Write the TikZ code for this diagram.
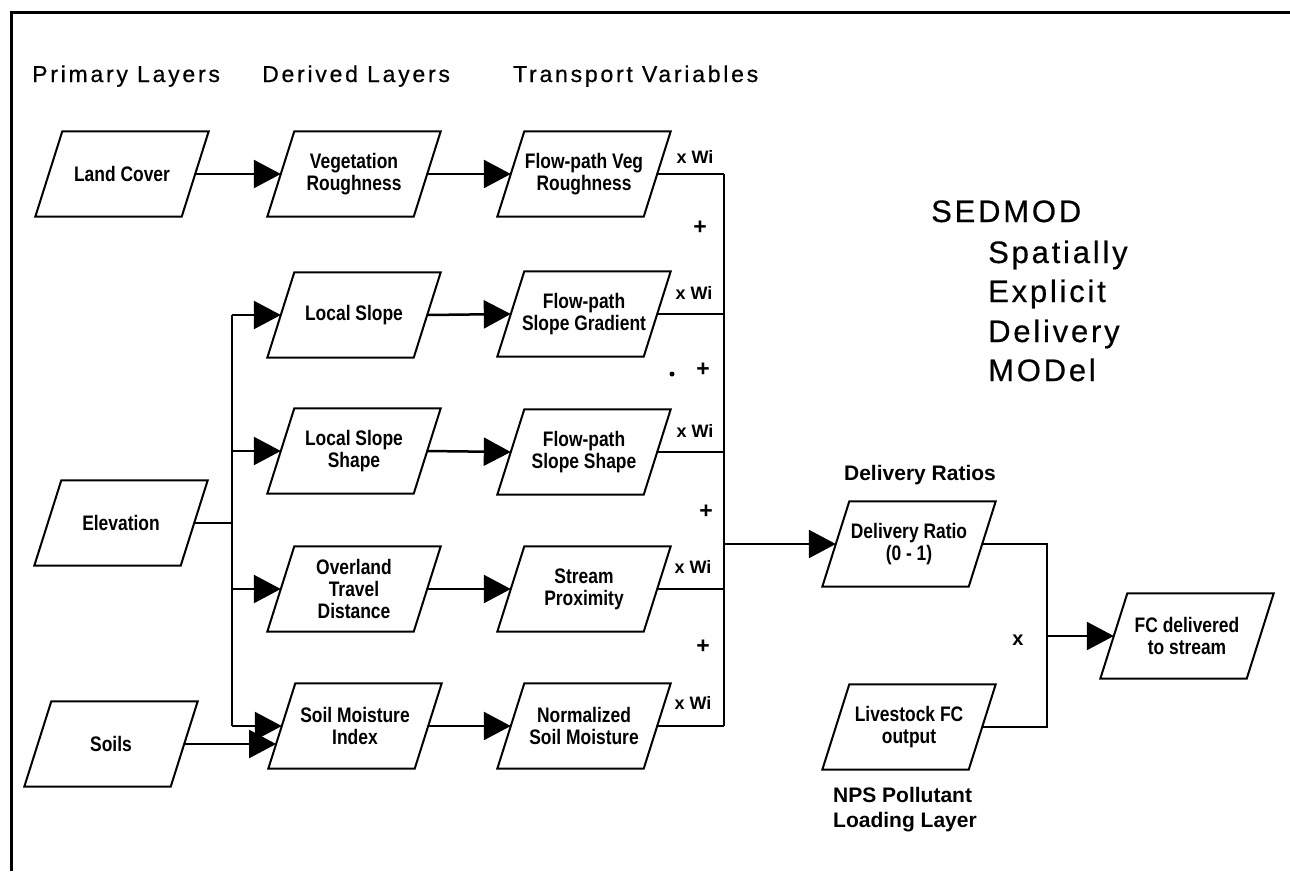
\documentclass[tikz,border=0pt]{standalone}
\usepackage{fontspec}
\setmainfont{Liberation Sans}
\newfontfamily\boxfont{Liberation Sans}[UprightFont=* Bold, FakeStretch=0.83]
\newfontfamily\labfont{Liberation Sans}[UprightFont=* Bold]
\newfontfamily\headfont{Liberation Sans}[LetterSpace=12, FakeBold=0.6]
\newfontfamily\titlefont{Liberation Sans}[LetterSpace=9, FakeBold=0.5]
\usetikzlibrary{arrows.meta}

\tikzset{
  layer/.style={minimum width=146pt, minimum height=85pt, inner sep=0pt,
    align=center, font=\boxfont\fontsize{21}{22}\selectfont},
  outline/.style={line width=2pt, line join=miter},
  conn/.style={line width=2.5pt},
  arr/.style={conn, -{Triangle[length=27pt,width=28pt]}},
  head/.style={anchor=base west, inner sep=0pt, font=\headfont\fontsize{23}{25}\selectfont},
  title/.style={anchor=base west, inner sep=0pt, font=\titlefont\fontsize{31}{34}\selectfont},
  oplab/.style={inner sep=0pt, font=\labfont\fontsize{18}{20}\selectfont},
  plus/.style={inner sep=0pt, font=\labfont\fontsize{23}{24}\selectfont},
  note/.style={inner sep=0pt, align=left, font=\labfont\fontsize{21}{25}\selectfont},
}

\begin{document}
\begin{tikzpicture}[x=1pt, y=-1pt]
\useasboundingbox (0,0) rectangle (1290,871);

% frame
\draw[line width=3pt] (1290,12) -- (11,12) -- (11,871);

% column headings
\node[head] (h1) at (32,82) {Primary Layers};
\node[head] (h2) at (262,82) {Derived Layers};
\node[head] (h3) at (513,82) {Transport Variables};

% primary layers
\node[layer] (lc)  at (122,174) {Land Cover};
\node[layer] (el)  at (121,523) {Elevation};
\node[layer] (so)  at (111,744) {Soils};

% derived layers
\node[layer] (vr)  at (354,174) {Vegetation\\Roughness};
\node[layer] (ls)  at (354,315) {Local Slope};
\node[layer] (lss) at (354,451) {Local Slope\\Shape};
\node[layer] (otd) at (354,589) {Overland\\Travel\\Distance};
\node[layer] (smi) at (355,726) {Soil Moisture\\Index};

% transport variables
\node[layer] (fvr) at (584,174) {Flow-path Veg\\Roughness};
\node[layer] (fsg) at (584,314) {Flow-path\\Slope Gradient};
\node[layer] (fss) at (584,452) {Flow-path\\Slope Shape};
\node[layer] (sp)  at (584,589) {Stream\\Proximity};
\node[layer] (nsm) at (584,726) {Normalized\\Soil Moisture};

% delivery and loading
\node[layer] (dr)  at (909,544) {Delivery Ratio\\(0 - 1)};
\node[layer] (lfc) at (909,727) {Livestock FC\\output};
\node[layer] (fc)  at (1187,636) {FC delivered\\to stream};

% parallelogram outlines
\foreach \n in {lc,el,so,vr,ls,lss,otd,smi,fvr,fsg,fss,sp,nsm,dr,lfc,fc}
  \draw[outline] ([xshift=-13.5pt]\n.south west) -- ([xshift=13.5pt]\n.north west)
    -- ([xshift=13.5pt]\n.north east) -- ([xshift=-13.5pt]\n.south east) -- cycle;

% primary -> derived
\draw[arr] (lc.east) -- (vr.west);
\coordinate (busL) at (232,523);
\draw[conn] (el.east) -- (busL);
\draw[conn] (busL |- ls.west) -- (busL |- smi.west);
\foreach \n in {ls,lss,otd,smi}
  \draw[arr] (busL |- \n.west) -- (\n.west);
\coordinate (smiin) at ([xshift=-5.7pt,yshift=-18pt]smi.west);
\draw[arr] (so.east) -- (smiin);

% derived -> transport
\draw[arr] (vr.east) -- (fvr.west);
\draw[arr] (ls.east) -- (fsg.west);
\draw[arr] (lss.east) -- (fss.west);
\draw[arr] (otd.east) -- (sp.west);
\draw[arr] (smi.east) -- (nsm.west);

% weighted sum
\coordinate (busR) at (724,544);
\foreach \n in {fvr,fsg,fss,sp,nsm}
  \draw[conn] (\n.east) -- (busR |- \n.east);
\draw[conn] (busR |- fvr.east) -- (busR |- nsm.east);
\draw[arr] (busR) -- (dr.west);

% product
\coordinate (busX) at (1047,636);
\draw[conn] (dr.east) -- (busX |- dr.east) -- (busX |- lfc.east) -- (lfc.east);
\draw[arr] (busX) -- (fc.west);

% operator labels
\node[oplab] (w1) at (695,157) {x Wi};
\node[oplab] (w2) at (694,293) {x Wi};
\node[oplab] (w3) at (695,431) {x Wi};
\node[oplab] (w4) at (693,567) {x Wi};
\node[oplab] (w5) at (693,703) {x Wi};
\node[plus] (p1) at (700,228) {+};
\node[plus] (p2) at (703,370) {+};
\node[plus] (p3) at (706,512) {+};
\node[plus] (p4) at (703,647) {+};
\node[circle, fill, inner sep=0pt, minimum size=5pt] (dot) at (672,374) {};
\node[oplab, font=\labfont\fontsize{20}{22}\selectfont] (mx) at (1018,640) {x};

% side captions
\node[note] (drcap) at (920,475) {Delivery Ratios};
\node[note, anchor=north west] (npscap) at (833,787) {NPS Pollutant\\Loading Layer};

% model name
\node[title] (t0) at (931,222) {SEDMOD};
\node[title] (t1) at (988,263) {Spatially};
\node[title] (t2) at (988,302) {Explicit};
\node[title] (t3) at (988,342) {Delivery};
\node[title] (t4) at (988,381) {MODel};
\end{tikzpicture}
\end{document}
